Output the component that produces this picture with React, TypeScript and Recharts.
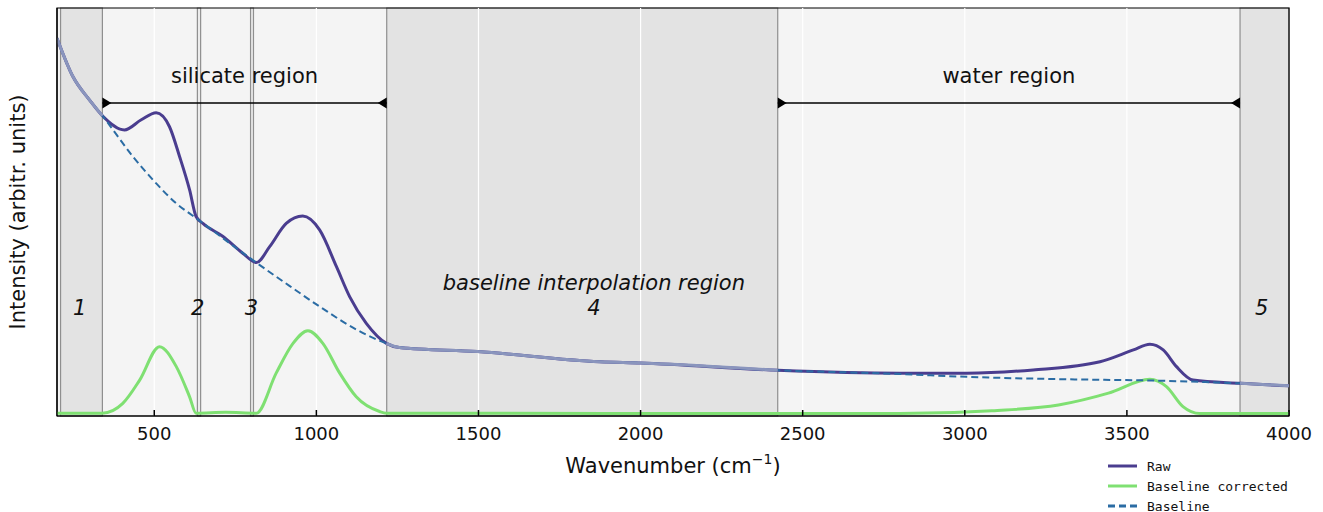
import React from "react";
import {
  ComposedChart,
  Line,
  XAxis,
  YAxis,
  ReferenceArea,
  ReferenceLine,
  ReferenceDot,
} from "recharts";

// x ticks (wavenumber, cm-1)
const wavenumberTicks = [500, 1000, 1500, 2000, 2500, 3000, 3500, 4000];

// raw spectrum (arbitrary units, 0..100)
const rawSpectrum = [
  { w: 200, v: 92.6 }, { w: 249, v: 83.2 }, { w: 300, v: 77.5 }, { w: 340, v: 73.6 },
  { w: 408, v: 70.1 }, { w: 460, v: 72.6 }, { w: 506, v: 74.3 }, { w: 547, v: 70.9 },
  { w: 578, v: 63.6 }, { w: 609, v: 55.4 }, { w: 629, v: 48.9 }, { w: 650, v: 47.2 },
  { w: 712, v: 44.0 }, { w: 773, v: 39.9 }, { w: 815, v: 37.6 }, { w: 856, v: 41.5 },
  { w: 907, v: 47.2 }, { w: 958, v: 49.0 }, { w: 1010, v: 45.6 }, { w: 1062, v: 36.6 },
  { w: 1103, v: 29.2 }, { w: 1154, v: 22.7 }, { w: 1216, v: 17.8 }, { w: 1256, v: 16.8 },
  { w: 1497, v: 15.8 }, { w: 1874, v: 13.3 }, { w: 2000, v: 13.0 }, { w: 2423, v: 11.2 },
  { w: 2800, v: 10.5 }, { w: 3006, v: 10.5 }, { w: 3211, v: 11.3 }, { w: 3417, v: 13.3 },
  { w: 3520, v: 16.2 }, { w: 3571, v: 17.6 }, { w: 3612, v: 16.2 }, { w: 3653, v: 12.1 },
  { w: 3704, v: 8.8 }, { w: 3849, v: 8.0 }, { w: 4000, v: 7.4 },
];

// fitted baseline
const baselineCurve = [
  { w: 200, v: 92.6 }, { w: 249, v: 83.2 }, { w: 300, v: 77.5 }, { w: 340, v: 73.6 },
  { w: 434, v: 63.6 }, { w: 506, v: 57.0 }, { w: 568, v: 52.1 }, { w: 629, v: 48.5 },
  { w: 804, v: 38.2 }, { w: 917, v: 31.9 }, { w: 1020, v: 26.3 }, { w: 1123, v: 21.2 },
  { w: 1216, v: 17.8 }, { w: 1256, v: 16.8 }, { w: 1497, v: 15.8 }, { w: 1874, v: 13.3 },
  { w: 2000, v: 13.0 }, { w: 2423, v: 11.2 }, { w: 2800, v: 10.3 }, { w: 3006, v: 9.6 },
  { w: 3314, v: 9.0 }, { w: 3571, v: 8.7 }, { w: 3849, v: 8.0 }, { w: 4000, v: 7.4 },
];

// raw - baseline
const correctedSpectrum = [
  { w: 200, v: 0.7 }, { w: 340, v: 0.7 }, { w: 403, v: 3.1 }, { w: 455, v: 8.8 },
  { w: 516, v: 17.0 }, { w: 568, v: 12.1 }, { w: 609, v: 4.7 }, { w: 629, v: 0.7 },
  { w: 720, v: 0.9 }, { w: 815, v: 0.7 }, { w: 876, v: 10.5 }, { w: 928, v: 17.8 },
  { w: 974, v: 20.9 }, { w: 1020, v: 17.8 }, { w: 1072, v: 10.5 }, { w: 1123, v: 4.7 },
  { w: 1195, v: 1.1 }, { w: 1216, v: 0.7 }, { w: 2423, v: 0.6 }, { w: 2800, v: 0.6 },
  { w: 3083, v: 1.3 }, { w: 3289, v: 2.7 }, { w: 3443, v: 5.6 }, { w: 3571, v: 9.0 },
  { w: 3622, v: 7.2 }, { w: 3673, v: 2.3 }, { w: 3725, v: 0.6 }, { w: 4000, v: 0.6 },
];

// where raw and baseline overlap (fit windows)
const fitOverlap = [
  { w: 200, v: 92.6 }, { w: 249, v: 83.2 }, { w: 300, v: 77.5 }, { w: 340, v: 73.6 },
  { w: 341, v: null },
  { w: 1216, v: 17.8 }, { w: 1256, v: 16.8 }, { w: 1497, v: 15.8 }, { w: 1874, v: 13.3 },
  { w: 2000, v: 13.0 }, { w: 2423, v: 11.2 },
  { w: 2424, v: null },
  { w: 3849, v: 8.0 }, { w: 4000, v: 7.4 },
];

const fitWindows = [
  { from: 211, to: 340, wide: true },
  { from: 633, to: 643, wide: false },
  { from: 797, to: 806, wide: false },
  { from: 1217, to: 2423, wide: true },
  { from: 3849, to: 4000, wide: true },
];
const windowNumbers = ["1", "2", "3", "4", "5"];
const windowLabelAt = [270, 634, 800, 1856, 3916];
const spectralRanges = [
  { name: "silicate region", from: 340, to: 1217 },
  { name: "water region", from: 2423, to: 3849 },
];

const RAW = "#4a3d8f";
const CORR = "#7fe072";
const BASE = "#2b6ca4";
const OVERLAP = "#8a95bd";
const FONT = "DejaVu Sans, sans-serif";

const textShape = (t: string, size: number, italic = false) => (p: any) => (
  <text
    x={p.cx}
    y={p.cy}
    textAnchor="middle"
    dominantBaseline="central"
    fontSize={size}
    fontStyle={italic ? "italic" : "normal"}
    fontFamily={FONT}
    fill="#111"
  >
    {t}
  </text>
);

const arrowHead = (dir: number) => (p: any) => (
  <polygon
    points={`${p.cx},${p.cy - 5.5} ${p.cx},${p.cy + 5.5} ${p.cx + dir * 9},${p.cy}`}
    fill="#000"
  />
);

const XTick = (p: any) => (
  <g>
    <line x1={p.x} x2={p.x} y1={416} y2={410} stroke="#000" strokeWidth={1.5} />
    <text x={p.x} y={440} textAnchor="middle" fontSize={18} fontFamily={FONT} fill="#111">
      {p.payload.value}
    </text>
  </g>
);

const legendRows = [
  { name: "Raw", color: RAW, dash: undefined },
  { name: "Baseline corrected", color: CORR, dash: undefined },
  { name: "Baseline", color: BASE, dash: "7 4" },
];

const LegendBox = () => (
  <div
    style={{
      position: "absolute",
      left: 1104,
      top: 456,
      fontFamily: "DejaVu Sans Mono, monospace",
      fontSize: 13,
    }}
  >
    {legendRows.map((r) => (
      <div key={r.name} style={{ display: "flex", alignItems: "center", height: 20 }}>
        <svg width={43} height={20}>
          <line x1={4} x2={33} y1={10} y2={10} stroke={r.color} strokeWidth={3} strokeDasharray={r.dash} />
        </svg>
        <span style={{ color: "#111" }}>{r.name}</span>
      </div>
    ))}
  </div>
);

const regionLabelY = 26.5;

export default function App() {
  return (
    <div style={{ position: "absolute", left: 0, top: 0, width: 1323, height: 512, background: "#fff" }}>
      <ComposedChart
        width={1323}
        height={512}
        margin={{ top: 8, right: 34, bottom: 0, left: 0 }}
      >
        <XAxis
          type="number"
          dataKey="w"
          domain={[200, 4000]}
          ticks={wavenumberTicks}
          allowDataOverflow
          height={96}
          tickLine={false}
          tickSize={0}
          tickMargin={0}
          axisLine={{ stroke: "#000", strokeWidth: 1.2 }}
          tick={<XTick />}
          label={{
            content: () => (
              <text x={673} y={473} textAnchor="middle" fontSize={21} fontFamily={FONT} fill="#111">
                Wavenumber (cm
                <tspan dy={-9} fontSize={14}>−1</tspan>
                <tspan dy={9}>)</tspan>
              </text>
            ),
          }}
        />
        <YAxis
          type="number"
          domain={[0, 100]}
          allowDataOverflow
          width={57}
          tick={false}
          tickLine={false}
          axisLine={{ stroke: "#000", strokeWidth: 1.2 }}
          label={{
            content: () => (
              <text
                x={25}
                y={212}
                textAnchor="middle"
                fontSize={21}
                fontFamily={FONT}
                fill="#111"
                transform="rotate(-90 25 212)"
              >
                Intensity (arbitr. units)
              </text>
            ),
          }}
        />

        <ReferenceArea x1={200} x2={4000} y1={0} y2={100} fill="#f4f4f4" fillOpacity={1} stroke="none" />
        {fitWindows.map((r, i) => (
          <ReferenceArea
            key={`win-${i}`}
            x1={r.from}
            x2={r.to}
            y1={0}
            y2={100}
            fill={r.wide ? "#e3e3e3" : "#ececec"}
            fillOpacity={1}
            stroke="#8f8f8f"
            strokeWidth={1.2}
          />
        ))}
        {wavenumberTicks.slice(0, -1).map((t) => (
          <ReferenceLine key={`g-${t}`} x={t} stroke="#ffffff" strokeWidth={1.2} />
        ))}

        {spectralRanges.map((r) => (
          <ReferenceLine
            key={r.name}
            segment={[{ x: r.from, y: 76.7 }, { x: r.to, y: 76.7 }]}
            stroke="#000"
            strokeWidth={1.5}
          />
        ))}
        {spectralRanges.map((r) => (
          <ReferenceDot key={`${r.name}-a`} x={r.from} y={76.7} r={0} shape={arrowHead(1)} />
        ))}
        {spectralRanges.map((r) => (
          <ReferenceDot key={`${r.name}-b`} x={r.to} y={76.7} r={0} shape={arrowHead(-1)} />
        ))}
        {spectralRanges.map((r) => (
          <ReferenceDot
            key={`${r.name}-t`}
            x={(r.from + r.to) / 2}
            y={83.3}
            r={0}
            shape={textShape(r.name, 21)}
          />
        ))}

        {windowNumbers.map((n, i) => (
          <ReferenceDot
            key={`num-${i}`}
            x={windowLabelAt[i]}
            y={regionLabelY}
            r={0}
            shape={textShape(n, 21, true)}
          />
        ))}
        <ReferenceDot x={1856} y={32.6} r={0} shape={textShape("baseline interpolation region", 21, true)} />

        <Line data={correctedSpectrum} dataKey="v" type="monotone" stroke={CORR} strokeWidth={3} dot={false} isAnimationActive={false} name="Baseline corrected" />
        <Line data={rawSpectrum} dataKey="v" type="monotone" stroke={RAW} strokeWidth={3} dot={false} isAnimationActive={false} name="Raw" />
        <Line data={baselineCurve} dataKey="v" type="monotone" stroke={BASE} strokeWidth={2} strokeDasharray="7 4" dot={false} isAnimationActive={false} name="Baseline" />
        <Line data={fitOverlap} dataKey="v" type="monotone" stroke={OVERLAP} strokeWidth={3} dot={false} isAnimationActive={false} legendType="none" />

        <ReferenceArea x1={200} x2={4000} y1={0} y2={100} fill="none" stroke="#000" strokeWidth={1.2} />
      </ComposedChart>
      <LegendBox />
    </div>
  );
}
